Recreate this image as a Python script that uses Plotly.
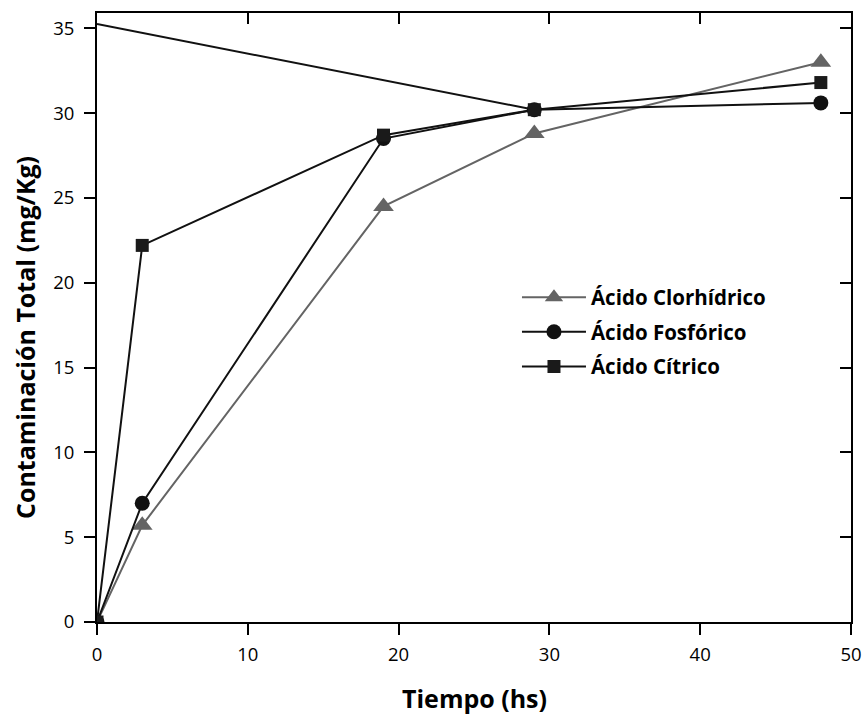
import plotly.graph_objects as go

tiempo = [0, 3, 19, 29, 48]
clorhidrico = [0, 5.7, 24.5, 28.8, 33.0]
fosforico = [0, 7.0, 28.5, 30.2, 30.6]
citrico = [0, 22.2, 28.7, 30.2, 31.8]
extra_x = [0, 29]
extra_y = [35.25, 30.2]

x_ticks = [0, 10, 20, 30, 40, 50]
y_ticks = [0, 5, 10, 15, 20, 25, 30, 35]

FONT = "'Open Sans', sans-serif"
GRAY = "#646464"
BLACK = "#111111"

fig = go.Figure()
fig.add_trace(go.Scatter(x=extra_x, y=extra_y, mode="lines",
                         line=dict(color=BLACK, width=2), showlegend=False, hoverinfo="skip"))
fig.add_trace(go.Scatter(x=tiempo, y=clorhidrico, mode="lines+markers", name="<b>Ácido Clorhídrico</b>",
                         legendgroup="a",
                         line=dict(color=GRAY, width=2),
                         marker=dict(symbol="triangle-up", size=18, color=GRAY)))
fig.add_trace(go.Scatter(x=tiempo, y=fosforico, mode="lines+markers", name="<b>Ácido Fosfórico</b>",
                         legendgroup="b",
                         line=dict(color=BLACK, width=2),
                         marker=dict(symbol="circle", size=15, color=BLACK)))
fig.add_trace(go.Scatter(x=tiempo, y=citrico, mode="lines+markers", name="<b>Ácido Cítrico</b>",
                         legendgroup="c",
                         line=dict(color=BLACK, width=2),
                         marker=dict(symbol="square", size=13, color="#1a1a1a")))

# invisible trace for mirrored top/right axes
fig.add_trace(go.Scatter(x=[None], y=[None], xaxis="x2", yaxis="y2", showlegend=False))

axis_common = dict(showgrid=False, zeroline=False, linecolor="black", linewidth=2,
                   ticklen=11, tickwidth=2, tickcolor="black", automargin=False)

fig.update_layout(
    width=865, height=715,
    paper_bgcolor="white", plot_bgcolor="white",
    font=dict(family=FONT, color="black", size=18.5),
    margin=dict(l=97, r=14, t=13, b=93),
    xaxis=dict(range=[0, 50], tickvals=x_ticks, ticks="outside", ticklabeloverflow="allow",
               ticklabelstandoff=4, **axis_common),
    yaxis=dict(range=[0, 35.9], tickvals=y_ticks, ticks="outside",
               ticklabelstandoff=6, **axis_common),
    xaxis2=dict(range=[0, 50], tickvals=x_ticks, ticks="inside", overlaying="x", side="top",
                showticklabels=False, anchor="y", **axis_common),
    yaxis2=dict(range=[0, 35.9], tickvals=y_ticks, ticks="inside", overlaying="y", side="right",
                showticklabels=False, anchor="x", **axis_common),
    legend=dict(x=0.557, y=0.566, xanchor="left", yanchor="top",
                font=dict(size=20.5, family=FONT), bgcolor="rgba(0,0,0,0)",
                traceorder="grouped", tracegroupgap=5, itemwidth=64),
    showlegend=True,
    annotations=[
        dict(text="<b>Tiempo (hs)</b>", xref="paper", yref="paper", x=0.5, y=0,
             xanchor="center", yanchor="middle", yshift=-76, showarrow=False, borderpad=0,
             font=dict(size=25, family=FONT)),
        dict(text="<b>Contaminación Total (mg/Kg)</b>", xref="paper", yref="paper",
             x=0, y=(622 - 338) / 609, xanchor="center", yanchor="middle", xshift=-72,
             textangle=-90, showarrow=False, font=dict(size=25, family=FONT)),
    ],
)

fig.write_html("out.html", config={"displayModeBar": False},
               post_script="document.body.style.margin='0px';")
